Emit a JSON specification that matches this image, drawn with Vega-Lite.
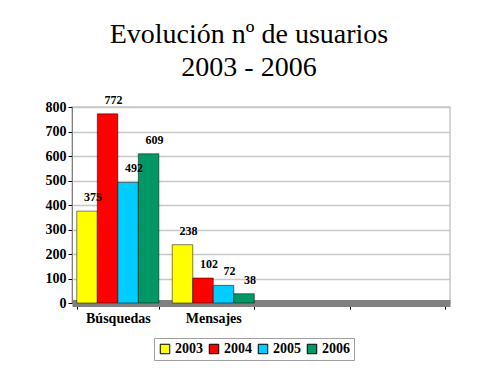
{
  "$schema": "https://vega.github.io/schema/vega-lite/v6.json",
  "autosize": {"type": "none"},
  "padding": {"left": 72, "top": 107, "right": 50, "bottom": 72},
  "width": 378,
  "height": 196,
  "background": "white",
  "title": {
    "text": ["Evolución nº de usuarios", "2003 - 2006"],
    "font": "Liberation Serif",
    "fontSize": 28,
    "fontWeight": "normal",
    "lineHeight": 33,
    "color": "#000000",
    "anchor": "middle",
    "dx": -12,
    "offset": 12
  },
  "data": {
    "values": [
      {"categoria": "Búsquedas", "anio": "2003", "usuarios": 375},
      {"categoria": "Búsquedas", "anio": "2004", "usuarios": 772},
      {"categoria": "Búsquedas", "anio": "2005", "usuarios": 492},
      {"categoria": "Búsquedas", "anio": "2006", "usuarios": 609},
      {"categoria": "Mensajes", "anio": "2003", "usuarios": 238},
      {"categoria": "Mensajes", "anio": "2004", "usuarios": 102},
      {"categoria": "Mensajes", "anio": "2005", "usuarios": 72},
      {"categoria": "Mensajes", "anio": "2006", "usuarios": 38}
    ]
  },
  "encoding": {
    "x": {
      "field": "categoria",
      "type": "nominal",
      "scale": {"domain": ["Búsquedas", "Mensajes", "c3", "c4"], "paddingInner": 0.14, "paddingOuter": 0.05},
      "axis": {
        "title": null,
        "labelAngle": 0,
        "labelExpr": "datum.value == 'c3' || datum.value == 'c4' ? '' : datum.value",
        "labelFont": "Liberation Serif",
        "labelFontSize": 14,
        "labelFontWeight": "bold",
        "labelColor": "#000000",
        "labelPadding": 2,
        "domainColor": "#808080",
        "domainWidth": 7,
        "ticks": true,
        "tickBand": "extent",
        "tickColor": "#000000",
        "tickSize": 6,
        "grid": false
      }
    },
    "xOffset": {"field": "anio", "type": "nominal", "scale": {"paddingInner": 0}},
    "y": {
      "field": "usuarios",
      "type": "quantitative",
      "scale": {"domain": [0, 800]},
      "axis": {
        "title": null,
        "values": [0, 100, 200, 300, 400, 500, 600, 700, 800],
        "labelFont": "Liberation Serif",
        "labelFontSize": 14,
        "labelFontWeight": "bold",
        "labelColor": "#000000",
        "domainColor": "#808080",
        "tickColor": "#000000",
        "tickSize": 4,
        "gridColor": "#c8c8c8",
        "gridWidth": 1.5
      }
    }
  },
  "layer": [
    {
      "mark": {"type": "bar", "stroke": "#000000", "strokeWidth": 0.5},
      "encoding": {
        "color": {
          "field": "anio",
          "type": "nominal",
          "scale": {"domain": ["2003", "2004", "2005", "2006"], "range": ["#ffff00", "#ff0000", "#00ccff", "#009966"]},
          "legend": {
            "title": null,
            "orient": "none",
            "direction": "horizontal",
            "legendX": 82,
            "legendY": 231,
            "symbolType": "square",
            "symbolSize": 90,
            "symbolStrokeColor": "#000000",
            "symbolStrokeWidth": 1,
            "labelFont": "Liberation Serif",
            "labelFontSize": 14,
            "labelFontWeight": "bold",
            "labelColor": "#000000",
            "labelOffset": 3,
            "columnPadding": 4,
            "strokeColor": "#a0a0a0",
            "padding": 4
          }
        }
      }
    },
    {
      "mark": {"type": "text", "dy": -14, "dx": 6, "font": "Liberation Serif", "fontSize": 12, "fontWeight": "bold", "color": "#000000"},
      "encoding": {"text": {"field": "usuarios", "type": "quantitative"}}
    }
  ],
  "config": {"view": {"stroke": "#c8c8c8", "strokeWidth": 1.5}}
}
